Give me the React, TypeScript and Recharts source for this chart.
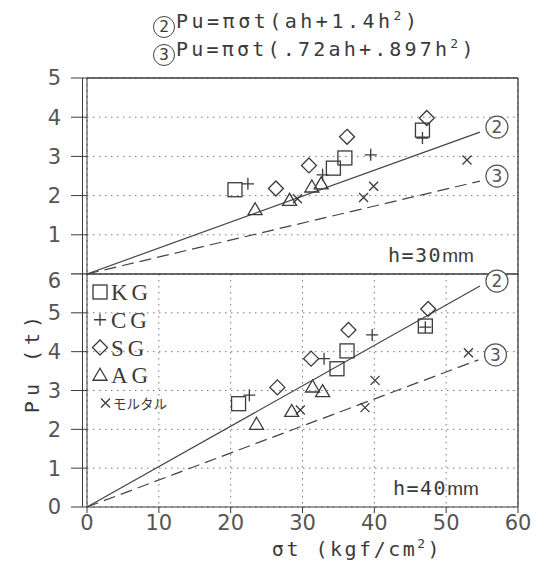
import React from 'react'
import { ScatterChart, Scatter, XAxis, YAxis, CartesianGrid, ReferenceLine, Legend } from 'recharts'

const xTicks = [0, 10, 20, 30, 40, 50, 60]
const upperTicks = [0, 1, 2, 3, 4, 5]
const lowerTicks = [0, 1, 2, 3, 4, 5, 6]

// h=30mm (upper panel)  [σt, Pu]
const kg30 = [[20.6, 2.15], [34.3, 2.7], [35.9, 2.96], [46.7, 3.67]]
const cg30 = [[22.4, 2.3], [32.8, 2.53], [39.5, 3.04], [46.7, 3.47]]
const sg30 = [[26.3, 2.18], [30.9, 2.77], [36.2, 3.5], [47.3, 3.98]]
const ag30 = [[23.4, 1.64], [28.2, 1.88], [31.3, 2.22], [32.6, 2.3]]
const mortar30 = [[29.3, 1.92], [38.5, 1.95], [39.9, 2.24], [52.9, 2.91]]
const eq2_30 = [[0, 0], [54.7, 3.62]]
const eq3_30 = [[0, 0], [54.7, 2.37]]

// h=40mm (lower panel)
const kg40 = [[21.1, 2.66], [34.8, 3.56], [36.2, 4.02], [47.1, 4.66]]
const cg40 = [[22.6, 2.88], [33.0, 3.82], [39.7, 4.43], [47.1, 4.63]]
const sg40 = [[26.5, 3.08], [31.2, 3.82], [36.4, 4.56], [47.5, 5.1]]
const ag40 = [[23.6, 2.13], [28.5, 2.46], [31.4, 3.09], [32.8, 2.97]]
const mortar40 = [[29.7, 2.5], [38.7, 2.56], [40.1, 3.26], [53.1, 3.97]]
const eq2_40 = [[0, 0], [54.7, 5.69]]
const eq3_40 = [[0, 0], [54.5, 3.79]]

const legendItems = [
  { kind: 'square', label: 'KG' },
  { kind: 'plus', label: 'CG' },
  { kind: 'diamond', label: 'SG' },
  { kind: 'triangle', label: 'AG' },
  { kind: 'cross', label: 'モルタル' },
]

const INK = '#3a3a3a'
const MONO = '"DejaVu Sans Mono", monospace'
const SANS = '"DejaVu Sans", sans-serif'

const pts = (a: number[][]) => a.map(([x, y]) => ({ x, y }))

function Mark({ kind, cx, cy }: { kind: string; cx: number; cy: number }) {
  const p = { fill: 'none', stroke: INK, strokeWidth: 1.3 }
  if (kind === 'square') return <rect x={cx - 7} y={cy - 7} width={14} height={14} {...p} />
  if (kind === 'plus') return <path d={`M${cx - 6},${cy}H${cx + 6}M${cx},${cy - 6}V${cy + 6}`} {...p} />
  if (kind === 'diamond')
    return <path d={`M${cx},${cy - 7.5}L${cx + 7.5},${cy}L${cx},${cy + 7.5}L${cx - 7.5},${cy}Z`} {...p} />
  if (kind === 'triangle')
    return <path d={`M${cx},${cy - 7}L${cx + 7},${cy + 5}L${cx - 7},${cy + 5}Z`} {...p} />
  return <path d={`M${cx - 4.5},${cy - 4.5}L${cx + 4.5},${cy + 4.5}M${cx + 4.5},${cy - 4.5}L${cx - 4.5},${cy + 4.5}`} {...p} />
}

// circled equation number drawn at the end of each line
function EqTag(props: any) {
  const { cx, cy, payload, tag } = props
  if (!payload || payload.x === 0) return <g />
  return (
    <g>
      <circle cx={cx + 17} cy={cy - 5} r={11} fill="#fff" stroke="#555" strokeWidth={1.2} />
      <text x={cx + 17} y={cy + 1} textAnchor="middle" fontSize={17} fontFamily={SANS} fill="#555">
        {tag}
      </text>
    </g>
  )
}

function LegendBox() {
  return (
    <svg width={110} height={135}>
      {legendItems.map((it, i) => {
        const cy = 12 + i * 27.75
        const mortar = it.kind === 'cross'
        return (
          <g key={it.label}>
            <Mark kind={it.kind} cx={mortar ? 19.5 : 14} cy={cy} />
            {mortar ? (
              <text x={27} y={cy + 6} fontSize={13.5} fontFamily='"Noto Sans CJK JP"' fill={INK}>
                {it.label}
              </text>
            ) : (
              <text x={25} y={cy + 8} fontSize={23} letterSpacing={4} fontFamily='"Liberation Serif", serif' fill={INK}>
                {it.label}
              </text>
            )}
          </g>
        )
      })}
    </svg>
  )
}

type PanelProps = {
  top: number
  height: number
  marginTop: number
  yMax: number
  yTicks: number[]
  showX: boolean
  kg: number[][]
  cg: number[][]
  sg: number[][]
  ag: number[][]
  mortar: number[][]
  eq2: number[][]
  eq3: number[][]
  legend?: boolean
}

function Panel(p: PanelProps) {
  const tickStyle = { fontSize: 21, fill: '#555', fontFamily: SANS }
  const series: [string, number[][]][] = [
    ['square', p.kg],
    ['plus', p.cg],
    ['diamond', p.sg],
    ['triangle', p.ag],
    ['cross', p.mortar],
  ]
  return (
    <div style={{ position: 'absolute', left: 0, top: p.top, width: 547, height: p.height }}>
      <ScatterChart width={547} height={p.height} margin={{ top: p.marginTop, right: 29, bottom: 0, left: 0 }}>
        <CartesianGrid stroke="#777" strokeDasharray="1.5 4.5" />
        {p.showX ? (
          <XAxis
            type="number"
            dataKey="x"
            domain={[0, 60]}
            ticks={xTicks}
            height={55}
            tickSize={6}
            tickMargin={2}
            tick={tickStyle}
            stroke={INK}
          />
        ) : (
          <XAxis type="number" dataKey="x" domain={[0, 60]} ticks={xTicks} height={0} tick={false} tickLine={false} stroke={INK} />
        )}
        <YAxis
          type="number"
          dataKey="y"
          domain={[0, p.yMax]}
          ticks={p.yTicks}
          width={87}
          tickSize={16}
          tickMargin={10}
          tick={tickStyle}
          stroke={INK}
          tickFormatter={(v: number) => (!p.showX && v === 0 ? '' : String(v))}
        />
        <ReferenceLine y={p.yMax} stroke={INK} strokeWidth={1.3} />
        <ReferenceLine x={60} stroke={INK} strokeWidth={1.3} />
        <Scatter
          data={pts(p.eq2)}
          line={{ stroke: '#444', strokeWidth: 1.2 }}
          shape={(s: any) => <EqTag {...s} tag="2" />}
          isAnimationActive={false}
        />
        <Scatter
          data={pts(p.eq3)}
          line={{ stroke: '#444', strokeWidth: 1.2, strokeDasharray: '12 6' }}
          shape={(s: any) => <EqTag {...s} tag="3" />}
          isAnimationActive={false}
        />
        {series.map(([kind, d]) => (
          <Scatter
            key={kind}
            data={pts(d)}
            shape={(s: any) => <Mark kind={kind} cx={s.cx} cy={s.cy} />}
            isAnimationActive={false}
          />
        ))}
        {p.legend && (
          <Legend
            layout="vertical"
            align="center"
            verticalAlign="middle"
            wrapperStyle={{ left: 86, top: 12, width: 110, height: 135 }}
            content={() => <LegendBox />}
          />
        )}
      </ScatterChart>
    </div>
  )
}

const textBase: React.CSSProperties = {
  position: 'absolute',
  fontFamily: MONO,
  color: INK,
  whiteSpace: 'nowrap',
}

function Circ({ n }: { n: string }) {
  return (
    <span
      style={{
        display: 'inline-flex',
        width: 22,
        height: 22,
        border: '1.3px solid #444',
        borderRadius: '50%',
        alignItems: 'center',
        justifyContent: 'center',
        fontSize: 16,
        letterSpacing: 0,
        lineHeight: 1,
        boxSizing: 'border-box',
        verticalAlign: '-4px',
        marginRight: 1,
      }}
    >
      {n}
    </span>
  )
}

const sup: React.CSSProperties = { fontSize: 13, position: 'relative', top: -8 }

export default function App() {
  return (
    <div style={{ position: 'absolute', left: 0, top: 0, width: 547, height: 562, background: '#fff' }}>
      <div style={{ ...textBase, left: 153, top: 9, fontSize: 20, letterSpacing: 3.5, lineHeight: '24px' }}>
        <Circ n="2" />
        Pu=πσt(ah+1.4h<span style={sup}>2</span>)
      </div>
      <div style={{ ...textBase, left: 153, top: 37, fontSize: 20, letterSpacing: 3.2, lineHeight: '24px' }}>
        <Circ n="3" />
        Pu=πσt(.72ah+.897h<span style={sup}>2</span>)
      </div>

      <Panel
        top={0}
        height={274}
        marginTop={78}
        yMax={5}
        yTicks={upperTicks}
        showX={false}
        kg={kg30}
        cg={cg30}
        sg={sg30}
        ag={ag30}
        mortar={mortar30}
        eq2={eq2_30}
        eq3={eq3_30}
      />
      <Panel
        top={268}
        height={294}
        marginTop={6}
        yMax={6}
        yTicks={lowerTicks}
        showX
        kg={kg40}
        cg={cg40}
        sg={sg40}
        ag={ag40}
        mortar={mortar40}
        eq2={eq2_40}
        eq3={eq3_40}
        legend
      />

      <div style={{ position: 'absolute', left: 82, top: 78, height: 429, borderLeft: `1.3px solid ${INK}` }} />

      <div style={{ ...textBase, left: 388, top: 243, fontSize: 20, letterSpacing: 1.5, lineHeight: '24px' }}>
        h=30<span style={{ fontFamily: '"Liberation Sans"', fontSize: 19, letterSpacing: 0 }}>mm</span>
      </div>
      <div style={{ ...textBase, left: 393, top: 476, fontSize: 20, letterSpacing: 1.5, lineHeight: '24px' }}>
        h=40<span style={{ fontFamily: '"Liberation Sans"', fontSize: 19, letterSpacing: 0 }}>mm</span>
      </div>

      <div
        style={{
          ...textBase,
          left: 200,
          width: 314,
          top: 539,
          textAlign: 'center',
          fontSize: 20,
          letterSpacing: 2.5,
          lineHeight: '20px',
        }}
      >
        σt (kgf/cm<span style={sup}>2</span>)
      </div>
      <div
        style={{
          ...textBase,
          left: 32,
          top: 362,
          fontSize: 20,
          letterSpacing: 5,
          lineHeight: '24px',
          transform: 'translate(-50%, -50%) rotate(-90deg)',
        }}
      >
        Pu (t)
      </div>
    </div>
  )
}
